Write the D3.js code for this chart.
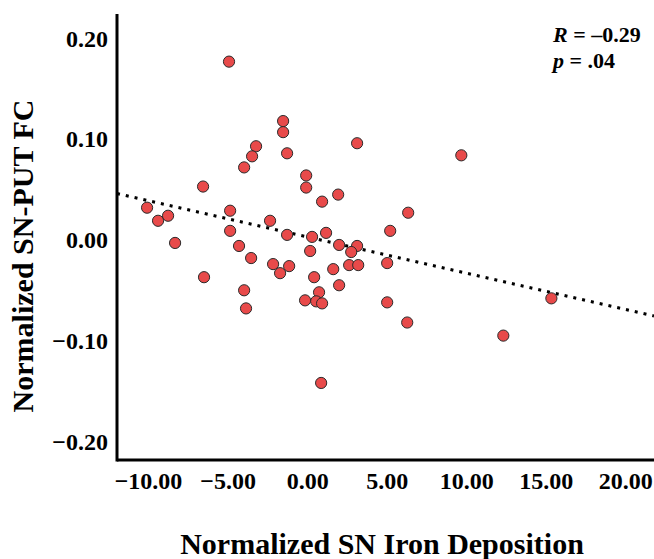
<!DOCTYPE html>
<meta charset="utf-8">
<style>
body { margin: 0; background: #fff; }
text { font-family: "Liberation Serif", "Times New Roman", serif; font-weight: bold; fill: #000; }
</style>
<body>
<script src="https://cdn.jsdelivr.net/npm/d3@7"></script>
<script>

// iron deposition (x) and SN-PUT FC (y)
var iron = [-4.91, -6.54, -10.06, -9.37, -8.74, -8.30, -4.84, -4.84, -4.28, -3.52,
            -2.33, -2.14, -1.70, -1.13, -1.51, -1.51, -1.26, -3.21, -3.46, -3.96,
            -0.06, -0.06, 0.94, -1.26, 0.31, 1.19, 0.19, -6.48, 0.44, -3.96,
            -3.84, -0.13, 0.75, 0.57, 0.94, 0.88, 1.95, 6.35, 2.01, 3.14,
            2.77, 5.22, 1.64, 2.64, 3.21, 5.03, 2.01, 5.03, 6.29, 3.14,
            9.69, 12.33, 15.35];
var fc = [0.177, 0.053, 0.032, 0.019, 0.024, -0.003, 0.029, 0.009, -0.006, -0.018,
          0.019, -0.024, -0.033, -0.026, 0.118, 0.107, 0.086, 0.093, 0.083, 0.072,
          0.064, 0.052, 0.038, 0.005, 0.003, 0.007, -0.011, -0.037, -0.037, -0.050,
          -0.068, -0.060, -0.052, -0.061, -0.063, -0.142, 0.045, 0.027, -0.005, -0.006,
          -0.012, 0.009, -0.029, -0.025, -0.025, -0.023, -0.045, -0.062, -0.082, 0.096,
          0.084, -0.095, -0.058];

var xTicks = [-10, -5, 0, 5, 10, 15, 20];
var yTicks = [-0.2, -0.1, 0, 0.1, 0.2];

// fit line (as drawn in the figure)
var fitIntercept = 0.0030;
var fitSlope = -0.0036;

var width = 654, height = 559;

var svg = d3.select("body").append("svg")
    .attr("width", width)
    .attr("height", height);

var x = d3.scaleLinear().domain([-11.95, 21.8]).range([117, 654]);
var y = d3.scaleLinear().domain([-0.2185, 0.2243]).range([460, 14]);

var minus = function(s) { return s.replace("-", "\u2013"); };

// fit line, dotted
var fx = x.domain();
svg.append("line")
    .attr("x1", x(fx[0])).attr("y1", y(fitIntercept + fitSlope * fx[0]))
    .attr("x2", x(fx[1])).attr("y2", y(fitIntercept + fitSlope * fx[1]))
    .attr("stroke", "#000")
    .attr("stroke-width", 3)
    .attr("stroke-dasharray", "3,6");

// points
svg.selectAll("circle")
    .data(iron.map(function(d, i) { return [d, fc[i]]; }))
  .enter().append("circle")
    .attr("cx", function(d) { return x(d[0]); })
    .attr("cy", function(d) { return y(d[1]); })
    .attr("r", 5.6)
    .attr("fill", "#e84a4a")
    .attr("stroke", "#2a2a2a")
    .attr("stroke-width", 1);

// axes
var xAxis = svg.append("g")
    .attr("transform", "translate(0,460)")
    .call(d3.axisBottom(x).tickValues(xTicks).tickSize(0).tickPadding(12)
      .tickFormat(function(d) { return minus(d3.format(".2f")(d)); }));
xAxis.select(".domain").attr("stroke", "#000").attr("stroke-width", 3)
    .attr("d", "M117,0H654");
xAxis.selectAll("text").style("font-size", "24px").attr("dy", "0.71em");

var yAxis = svg.append("g")
    .attr("transform", "translate(117,0)")
    .call(d3.axisLeft(y).tickValues(yTicks).tickSize(0).tickPadding(9)
      .tickFormat(function(d) { return minus(d3.format(".2f")(d)); }));
yAxis.select(".domain").attr("stroke", "#000").attr("stroke-width", 3)
    .attr("d", "M0,14V461.5");
yAxis.selectAll("text").style("font-size", "24px");

// titles
svg.append("text")
    .attr("x", 382).attr("y", 554)
    .attr("text-anchor", "middle")
    .style("font-size", "30px")
    .text("Normalized SN Iron Deposition");

svg.append("text")
    .attr("transform", "translate(33,256) rotate(-90)")
    .attr("text-anchor", "middle")
    .style("font-size", "30px")
    .text("Normalized SN-PUT FC");

// stats
var stats = svg.append("g").style("font-size", "22px");
var t1 = stats.append("text").attr("x", 553).attr("y", 42);
t1.append("tspan").style("font-style", "italic").text("R");
t1.append("tspan").text(" = \u20130.29");
var t2 = stats.append("text").attr("x", 553).attr("y", 68);
t2.append("tspan").style("font-style", "italic").text("p");
t2.append("tspan").text(" =  .04");

</script>
</body>
